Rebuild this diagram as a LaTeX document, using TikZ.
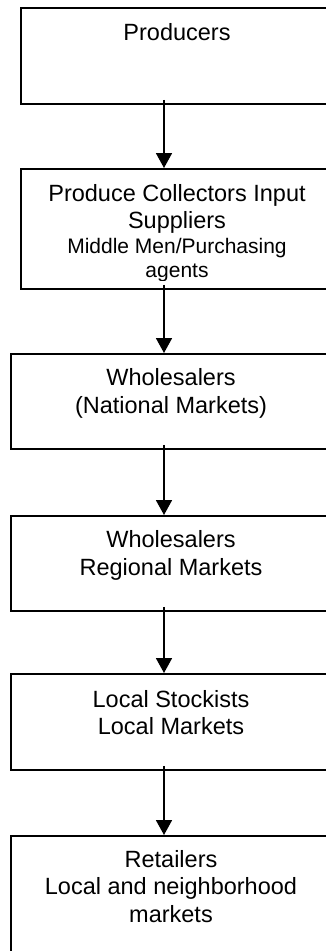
\documentclass[tikz,border=0pt]{standalone}
\usepackage{fontspec}
\setmainfont{Liberation Sans}
\usetikzlibrary{arrows.meta}

\begin{document}
\begin{tikzpicture}[x=1pt, y=-1pt,
  stage/.style={draw=black, line width=1.8pt, rectangle, inner sep=0pt,
                anchor=north west, minimum width=#1},
  stage/.default=313pt,
  lbl/.style={anchor=base, inner sep=0pt, font=\fontsize{23.5}{28}\selectfont},
  lblsmall/.style={anchor=base, inner sep=0pt, font=\fontsize{21}{25}\selectfont},
  flow/.style={line width=1.8pt, -{Triangle[width=16pt,length=15pt]}}]

  \useasboundingbox (0,0) rectangle (326,951);
  \clip (0,0) rectangle (326,951);

  % x position shared by all the down arrows
  \coordinate (ax) at (164,0);

  % stage boxes (they run past the right edge of the page)
  \node[stage=313pt, minimum height=96pt]  (b1) at (20,7)   {};
  \node[stage=313pt, minimum height=120pt] (b2) at (20,168) {};
  \node[stage=323pt, minimum height=95pt]  (b3) at (10,353) {};
  \node[stage=323pt, minimum height=95pt]  (b4) at (10,515) {};
  \node[stage=323pt, minimum height=96pt]  (b5) at (10,673) {};
  \node[stage=323pt, minimum height=160pt] (b6) at (10,835) {};

  % labels
  \node[lbl] (t1) at (177,40) {Producers};

  \begin{scope}
    % the text frame of this box cuts off its last line just below the baseline
    \clip (b2.north west) rectangle ([yshift=9.5pt]b2.south east);
    \node[lbl]      (t2a) at (177,201) {Produce Collectors Input};
    \node[lbl]      (t2b) at (177,228) {Suppliers};
    \node[lblsmall] (t2c) at (177,253) {Middle Men/Purchasing};
    \node[lblsmall] (t2d) at (177,277) {agents};
  \end{scope}

  \node[lbl] (t3a) at (171,385) {Wholesalers};
  \node[lbl] (t3b) at (171,413) {(National Markets)};

  \node[lbl] (t4a) at (171,547) {Wholesalers};
  \node[lbl] (t4b) at (171,575) {Regional Markets};

  \node[lbl] (t5a) at (171,707) {Local Stockists};
  \node[lbl] (t5b) at (171,734) {Local Markets};

  \node[lbl] (t6a) at (171,867) {Retailers};
  \node[lbl] (t6b) at (171,894) {Local and neighborhood};
  \node[lbl] (t6c) at (171,922) {markets};

  % flow arrows between the stages
  \draw[flow] ([yshift=5pt]b1.south -| ax) -- (b2.north -| ax);
  \draw[flow] ([yshift=5pt]b2.south -| ax) -- (b3.north -| ax);
  \draw[flow] ([yshift=5pt]b3.south -| ax) -- (b4.north -| ax);
  \draw[flow] ([yshift=5pt]b4.south -| ax) -- (b5.north -| ax);
  \draw[flow] ([yshift=5pt]b5.south -| ax) -- (b6.north -| ax);
\end{tikzpicture}
\end{document}
